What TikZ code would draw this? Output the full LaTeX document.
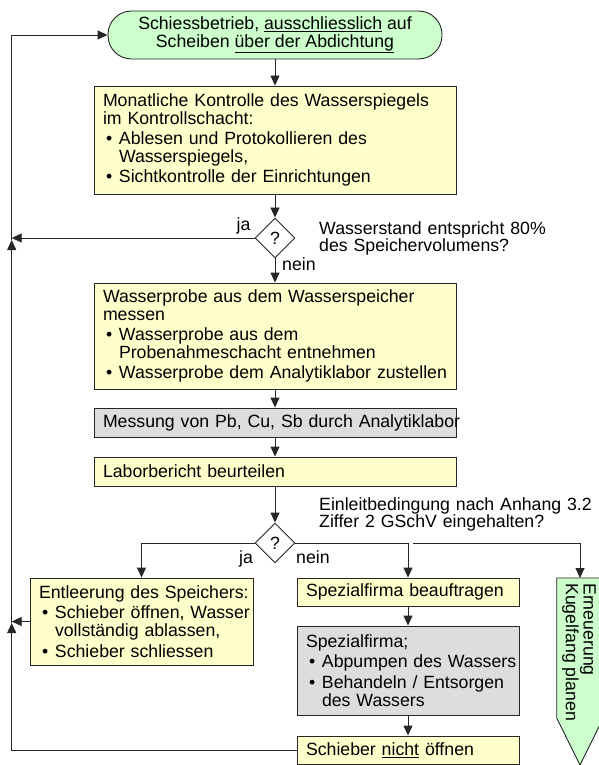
\documentclass[tikz,border=0pt]{standalone}
\usepackage{fontspec}
\setmainfont{Liberation Sans}
\usepackage{tikz}
\usetikzlibrary{shapes.geometric,arrows.meta}

\definecolor{boxyellow}{HTML}{FFFFCC}
\definecolor{boxgreen}{HTML}{CCFFCC}
\definecolor{boxgrey}{HTML}{DDDDDD}

% bullet line with hanging indent
\newcommand{\bitem}[1]{\par\vspace{2.7pt}\hangindent=16pt\hangafter=1\noindent\makebox[16pt][l]{\hspace{3pt}\textbullet}#1\par}

\begin{document}
\begin{tikzpicture}[x=1pt,y=-1pt,font=\fontsize{17.7}{17.8}\selectfont]
\tikzstyle{outline}=[draw=black!85, line width=0.9pt]
\tikzstyle{box}=[outline, fill=boxyellow, rectangle, text width=344pt, align=left, inner xsep=9pt, inner ysep=2pt]
\tikzstyle{greybox}=[box, fill=boxgrey]
\tikzstyle{startstop}=[outline, fill=boxgreen, rounded corners=23.5pt, minimum width=334pt, minimum height=48pt, align=center]
\tikzstyle{decision}=[outline, fill=white, diamond, aspect=1, minimum width=40pt, minimum height=40pt, inner sep=0pt]
\tikzstyle{flow}=[outline, -{Triangle[length=10pt,width=9pt]}]
\tikzstyle{note}=[inner sep=0pt, anchor=base west, text width=275pt, align=left]
\tikzstyle{tag}=[inner sep=0pt]
	\useasboundingbox (0,0) rectangle (598,765);

	\node[startstop] (start) at (275,35) {Schiessbetrieb, \underline{ausschliesslich} auf\\Scheiben \underline{über der Abdichtung}};
	\node[box, minimum height=108pt] (kontr) at (275,140) {\mbox{Monatliche Kontrolle des Wasserspiegels}\newline im Kontrollschacht:
		\bitem{Ablesen und Protokollieren des\newline Wasserspiegels,}
		\bitem{Sichtkontrolle der Einrichtungen}};
	\node[decision] (q1) at (275,238) {?};
	\node[box, minimum height=106pt] (probe) at (275,336) {Wasserprobe aus dem Wasserspeicher\newline messen
		\bitem{Wasserprobe aus dem\newline Probenahmeschacht entnehmen}
		\bitem{\mbox{Wasserprobe dem Analytiklabor zustellen}}};
	\node[greybox, minimum height=29pt] (mess) at (275,422.5) {\mbox{Messung von Pb, Cu, Sb durch Analytiklabor}};
	\node[box, minimum height=29pt] (bericht) at (275,471.5) {Laborbericht beurteilen};
	\node[decision] (q2) at (275,543) {?};

	\node[box, text width=205pt, minimum height=87pt] (entl) at (141.5,621.5) {\mbox{Entleerung des Speichers:}
		\bitem{\mbox{Schieber öffnen, Wasser}\newline vollständig ablassen,}
		\bitem{Schieber schliessen}};
	\node[box, text width=204pt, minimum height=28pt] (auftrag) at (408,592) {Spezialfirma beauftragen};
	\node[greybox, text width=204pt, minimum height=89pt] (firma) at (408,670.5) {Spezialfirma;
		\bitem{\mbox{Abpumpen des Wassers}}
		\bitem{\mbox{Behandeln / Entsorgen}\newline des Wassers}};
	\node[box, text width=204pt, minimum height=28pt] (zu) at (408,750) {Schieber \underline{nicht} öffnen};

	\draw[outline, fill=boxgreen] (556.7,578) -- (603.3,578) -- (603.3,718) -- (580,765) -- (556.7,718) -- cycle;
	\node[rotate=-90, anchor=north west, inner sep=0pt, align=left] (ern) at (596,583) {Erneuerung\\Kugelfang planen};
	\coordinate (ernin) at (580,578);

	\node[note] (cond1) at (319,234) {Wasserstand entspricht 80\%\\des Speichervolumens?};
	\node[note] (cond2) at (319,510) {\mbox{Einleitbedingung nach Anhang 3.2}\\Ziffer 2 GSchV eingehalten?};
	\node[tag, anchor=base] (ja1) at (243.5,230) {ja};
	\node[tag, anchor=base west] (nein1) at (282,270) {nein};
	\node[tag, anchor=base] (ja2) at (246,563) {ja};
	\node[tag, anchor=base west] (nein2) at (296,563) {nein};

	\coordinate (lp1) at (11.7,240);
	\coordinate (lp2) at (11.7,623);
	\coordinate (split) at (413,543);

	\draw[flow] (start) -- (kontr);
	\draw[flow] (kontr) -- (q1);
	\draw[flow] (q1) -- (probe);
	\draw[flow] (probe) -- (mess);
	\draw[flow] (mess) -- (bericht);
	\draw[flow] (bericht) -- (q2);
	\draw[flow] (q2.west) -| (entl.north);
	\draw[flow] (q2.east) -| (auftrag.north);
	\draw[flow] (split) -| (ernin);
	\draw[flow] (auftrag) -- (firma);
	\draw[flow] (firma) -- (zu);
	% back to the start
	\draw[flow] (zu.west) -| (lp2);
	\draw[flow] (entl.west) -- (entl.west -| lp2);
	\draw[flow] (lp2) -- (lp1);
	\draw[flow] (q1.west) -- (q1.west -| lp1);
	\draw[flow] (lp1) |- (start.west);
%	\node at (q2) {?};
\end{tikzpicture}
\end{document}
